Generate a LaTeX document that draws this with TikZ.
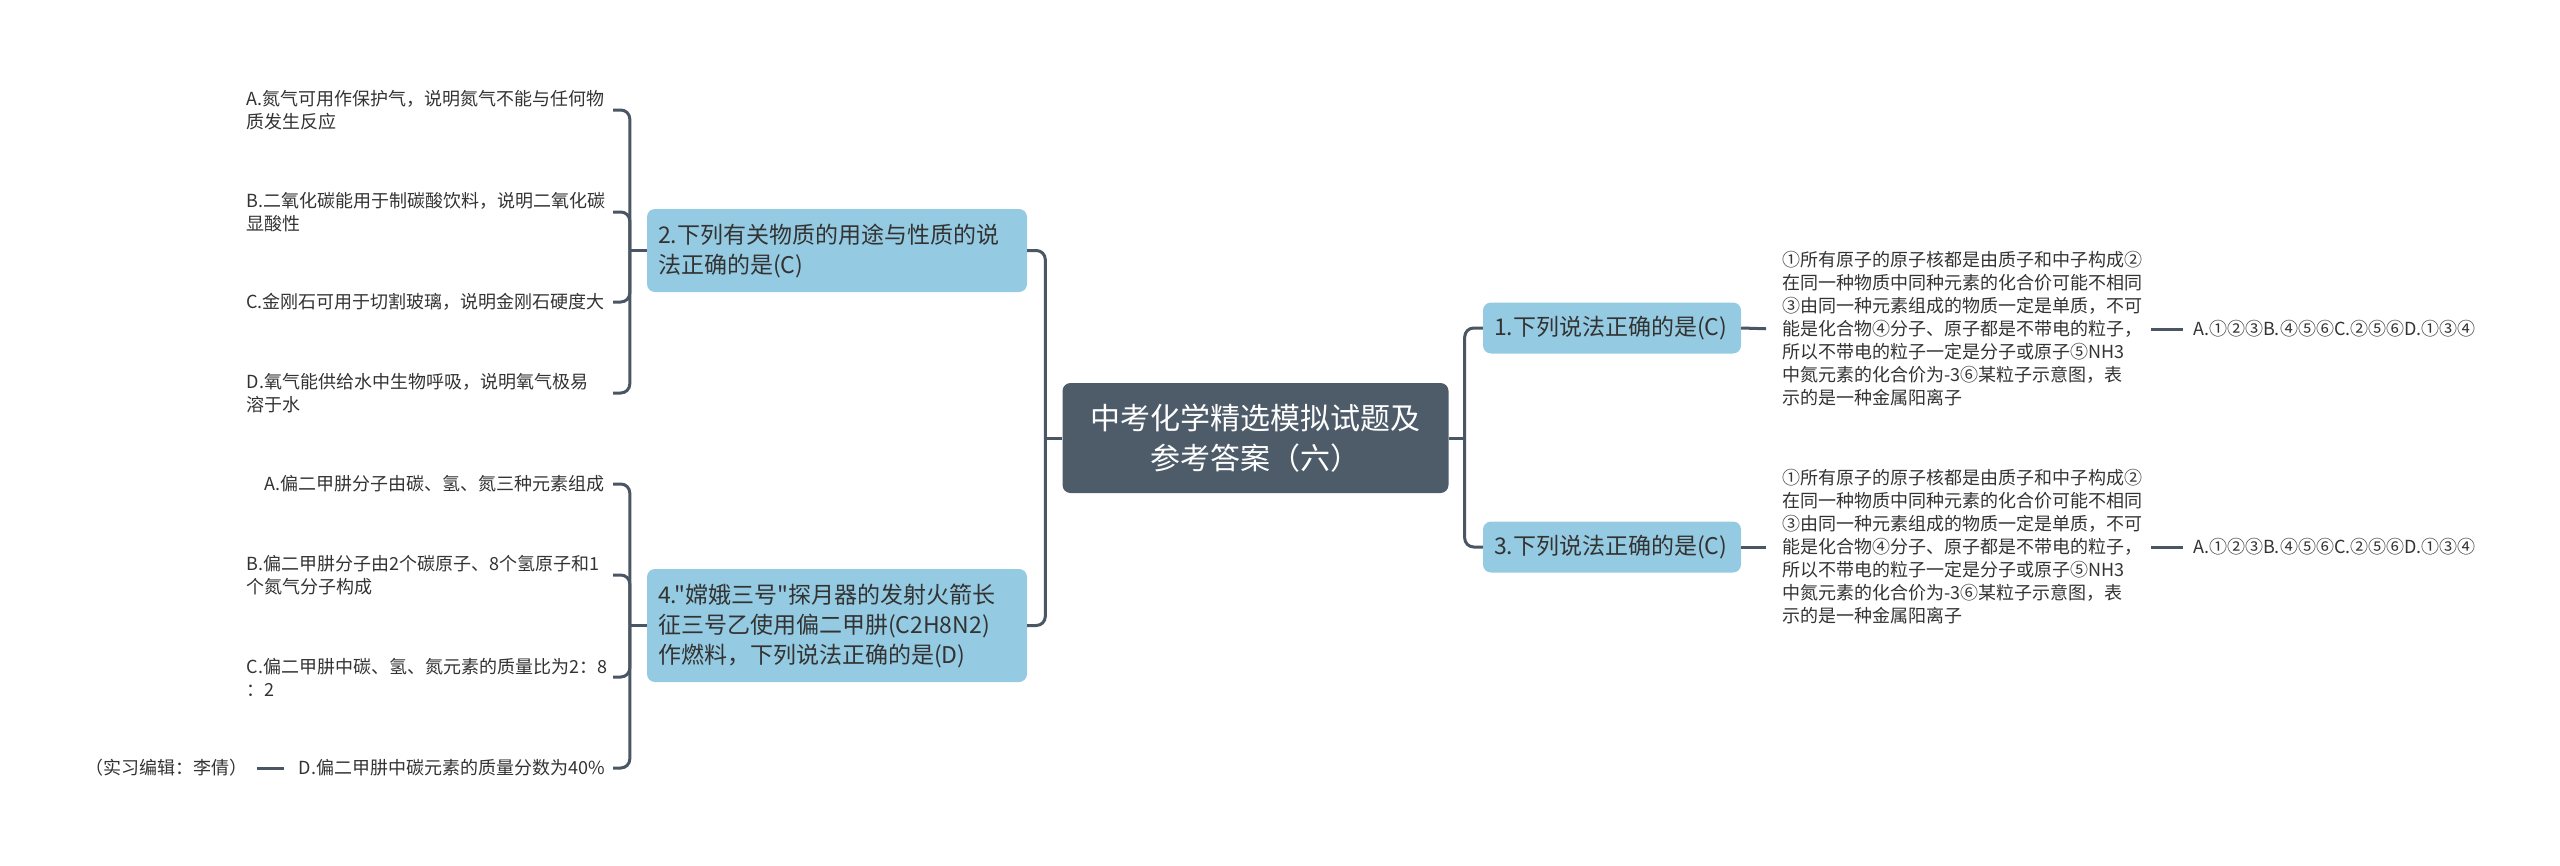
\documentclass[tikz,border=0pt]{standalone}
\usepackage{fontspec}
\setmainfont{Noto Sans CJK SC}[Ligatures=TeXOff]
\definecolor{rootc}{HTML}{4E5C6A}
\definecolor{subc}{HTML}{95CBE2}
\definecolor{linec}{HTML}{4A5663}
\definecolor{txt}{HTML}{333333}
\begin{document}
\begin{tikzpicture}[x=1pt,y=-1pt,
  rootbox/.style={fill=rootc, rounded corners=8pt, text=white, font=\fontsize{30}{40}\selectfont, align=center, minimum width=386pt, minimum height=110pt, inner sep=0pt},
  subbox/.style={fill=subc, rounded corners=8pt, text=txt, font=\fontsize{23}{30}\selectfont, align=left, inner xsep=11pt, inner ysep=0pt},
  leaf/.style={text=txt, font=\fontsize{18}{23}\selectfont, align=left, inner xsep=8pt, inner ysep=0pt},
  wide/.style={text width=358pt},
  conn/.style={draw=linec, line width=3pt, rounded corners=9pt}]
\useasboundingbox (0,0) rectangle (2560,865);

\node[rootbox] (root) at (1255.5,438) {中考化学精选模拟试题及\\参考答案（六）};

\node[subbox, minimum width=380pt, minimum height=83pt, text width=358pt] (n2) at (837,250.5) {2.下列有关物质的用途与性质的说\\法正确的是(C)};
\node[subbox, minimum width=380pt, minimum height=113pt, text width=358pt] (n4) at (837,625.5) {4."嫦娥三号"探月器的发射火箭长\\征三号乙使用偏二甲肼(C2H8N2)\\作燃料，下列说法正确的是(D)};
\node[subbox, minimum width=258pt, minimum height=51pt, text width=236pt] (n1) at (1612,328) {1.下列说法正确的是(C)};
\node[subbox, minimum width=258pt, minimum height=51pt, text width=236pt] (n3) at (1612,547) {3.下列说法正确的是(C)};

% group 2 leaves
\node[leaf, wide, anchor=east] (a2) at (613,110) {A.氮气可用作保护气，说明氮气不能与任何物\\质发生反应};
\node[leaf, wide, anchor=east] (b2) at (613,212) {B.二氧化碳能用于制碳酸饮料，说明二氧化碳\\显酸性};
\node[leaf, anchor=east] (c2) at (613,302) {C.金刚石可用于切割玻璃，说明金刚石硬度大};
\node[leaf, wide, anchor=east] (d2) at (613,393) {D.氧气能供给水中生物呼吸，说明氧气极易\\溶于水};

% group 4 leaves
\node[leaf, anchor=east] (a4) at (613,484) {A.偏二甲肼分子由碳、氢、氮三种元素组成};
\node[leaf, wide, anchor=east] (b4) at (613,575) {B.偏二甲肼分子由2个碳原子、8个氢原子和1\\个氮气分子构成};
\node[leaf, wide, anchor=east] (c4) at (613,677) {C.偏二甲肼中碳、氢、氮元素的质量比为2：8\\：2};
\node[leaf, anchor=east] (d4) at (613,768) {D.偏二甲肼中碳元素的质量分数为40\%};
\node[leaf, anchor=east] (ed) at (256,768) {（实习编辑：李倩）};

% right side
\node[leaf, anchor=west] (p1) at (1774,329) {①所有原子的原子核都是由质子和中子构成②\\在同一种物质中同种元素的化合价可能不相同\\③由同一种元素组成的物质一定是单质，不可\\能是化合物④分子、原子都是不带电的粒子，\\所以不带电的粒子一定是分子或原子⑤NH3\\中氮元素的化合价为-3⑥某粒子示意图，表\\示的是一种金属阳离子};
\node[leaf, anchor=west] (p3) at (1774,547) {①所有原子的原子核都是由质子和中子构成②\\在同一种物质中同种元素的化合价可能不相同\\③由同一种元素组成的物质一定是单质，不可\\能是化合物④分子、原子都是不带电的粒子，\\所以不带电的粒子一定是分子或原子⑤NH3\\中氮元素的化合价为-3⑥某粒子示意图，表\\示的是一种金属阳离子};
\node[leaf, anchor=west] (q1) at (2185,329) {A.①②③B.④⑤⑥C.②⑤⑥D.①③④};
\node[leaf, anchor=west] (q3) at (2185,547) {A.①②③B.④⑤⑥C.②⑤⑥D.①③④};

% connectors: root to subtopics
\draw[conn] (root.west) -- ++(-17,0) coordinate (sl);
\draw[conn] (sl) |- (n2.east);
\draw[conn] (sl) |- (n4.east);
\draw[conn] (root.east) -- ++(16,0) coordinate (sr);
\draw[conn] (sr) |- (n1.west);
\draw[conn] (sr) |- (n3.west);

% group 2
\draw[conn] (n2.west) -- ++(-17,0) coordinate (s2);
\foreach \l in {a2,b2,c2,d2} \draw[conn] (s2) |- (\l.east);
% group 4
\draw[conn] (n4.west) -- ++(-17,0) coordinate (s4);
\foreach \l in {a4,b4,c4,d4} \draw[conn] (s4) |- (\l.east);
\draw[conn, shorten <=7pt, shorten >=1pt] (d4.west) -- (ed.east);

% right
\draw[conn, shorten >=8pt] (n1.east) -- (p1.west);
\draw[conn, shorten >=8pt] (n3.east) -- (p3.west);
\draw[conn, shorten <=1pt, shorten >=2pt] (p1.east) -- (q1.west);
\draw[conn, shorten <=1pt, shorten >=2pt] (p3.east) -- (q3.west);
\end{tikzpicture}
\end{document}
